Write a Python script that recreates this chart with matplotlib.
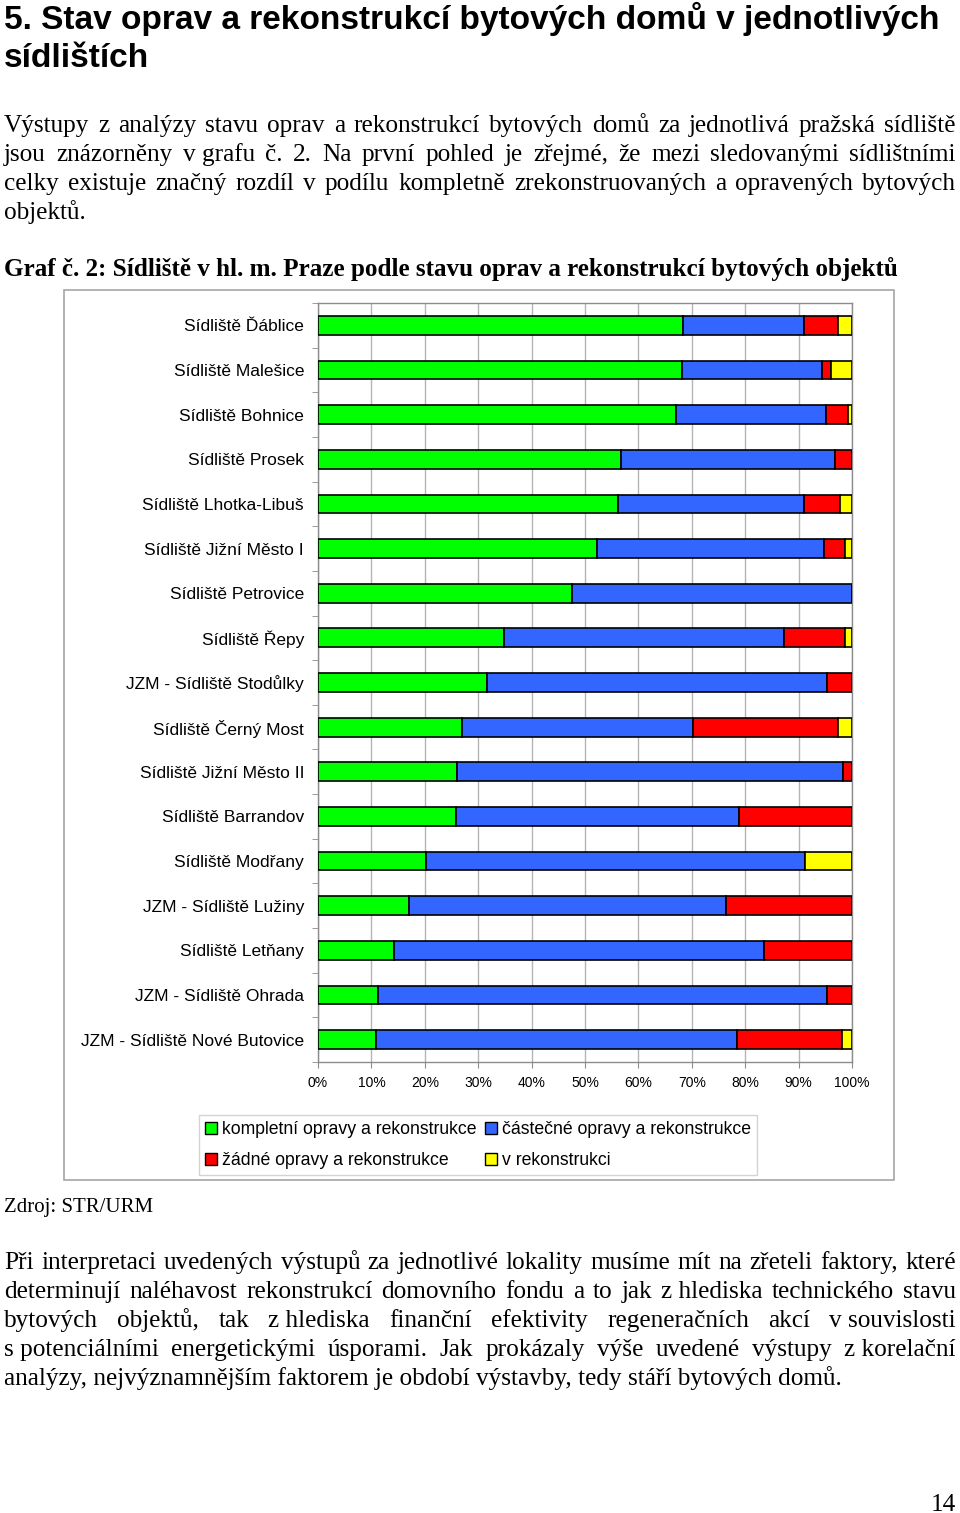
import numpy as np
import matplotlib
matplotlib.use("Agg")
import matplotlib.pyplot as plt
from matplotlib.patches import Rectangle, Patch
from matplotlib import font_manager

plt.rcParams["font.family"] = ["Liberation Sans", "DejaVu Sans"]

W, H = 960, 1513

# data (percent of buildings)
SIDLISTE = [
    "Sídliště Ďáblice", "Sídliště Malešice", "Sídliště Bohnice", "Sídliště Prosek",
    "Sídliště Lhotka-Libuš", "Sídliště Jižní Město I", "Sídliště Petrovice", "Sídliště Řepy",
    "JZM - Sídliště Stodůlky", "Sídliště Černý Most", "Sídliště Jižní Město II",
    "Sídliště Barrandov", "Sídliště Modřany", "JZM - Sídliště Lužiny", "Sídliště Letňany",
    "JZM - Sídliště Ohrada", "JZM - Sídliště Nové Butovice",
]
kompletni = [68.3, 68.1, 67.0, 56.8, 56.2, 52.2, 47.6, 34.8, 31.7, 26.9, 26.0, 25.9, 20.2, 17.1, 14.3, 11.2, 10.8]
castecne = [22.7, 26.2, 28.1, 40.1, 34.8, 42.5, 52.4, 52.4, 63.7, 43.4, 72.4, 52.9, 71.0, 59.3, 69.3, 84.2, 67.7]
zadne = [6.4, 1.8, 4.1, 3.1, 6.7, 4.0, 0.0, 11.5, 4.6, 27.0, 1.6, 21.2, 0.0, 23.6, 16.4, 4.6, 19.7]
v_rekonstrukci = [2.6, 3.9, 0.8, 0.0, 2.3, 1.3, 0.0, 1.3, 0.0, 2.7, 0.0, 0.0, 8.8, 0.0, 0.0, 0.0, 1.8]

SERIES_LABELS = ["kompletní opravy a rekonstrukce", "částečné opravy a rekonstrukce",
                 "žádné opravy a rekonstrukce", "v rekonstrukci"]
COLORS = ["#00ff00", "#3366ff", "#ff0000", "#ffff00"]
XTICKS = list(range(0, 101, 10))

TITLE = ["5. Stav oprav a rekonstrukcí bytových domů v jednotlivých", "sídlištích"]
PARA1 = [
    "Výstupy z analýzy stavu oprav a rekonstrukcí bytových domů za jednotlivá pražská sídliště",
    "jsou znázorněny v\u00a0grafu č. 2. Na první pohled je zřejmé, že mezi sledovanými sídlištními",
    "celky existuje značný rozdíl v podílu kompletně zrekonstruovaných a opravených bytových",
    "objektů.",
]
GRAF = "Graf č. 2: Sídliště v hl. m. Praze podle stavu oprav a rekonstrukcí bytových objektů"
ZDROJ = "Zdroj: STR/URM"
PARA2 = [
    "Při interpretaci uvedených výstupů za jednotlivé lokality musíme mít na zřeteli faktory, které",
    "determinují naléhavost rekonstrukcí domovního fondu a to jak z\u00a0hlediska technického stavu",
    "bytových objektů, tak z\u00a0hlediska finanční efektivity regeneračních akcí v\u00a0souvislosti",
    "s\u00a0potenciálními energetickými úsporami. Jak prokázaly výše uvedené výstupy z\u00a0korelační",
    "analýzy, nejvýznamnějším faktorem je období výstavby, tedy stáří bytových domů.",
]


def fx(x):
    return x / W


def fy(y):
    return 1 - y / H


fig = plt.figure(figsize=(W / 100, H / 100), dpi=100)
renderer = fig.canvas.get_renderer()


def fit_text(x, y, s, width, fs0=16, **kw):
    # scale font so the line spans the same width as in the page
    t = fig.text(fx(x), fy(y), s, fontsize=fs0, va="baseline", **kw)
    w = t.get_window_extent(renderer).width
    t.set_fontsize(fs0 * width / w)
    return t


def justify(line, y, x0, x1, fs, **kw):
    words = line.split(" ")
    texts = [fig.text(0, fy(y), w, fontsize=fs, va="baseline", **kw) for w in words]
    widths = [t.get_window_extent(renderer).width for t in texts]
    gap = (x1 - x0 - sum(widths)) / (len(texts) - 1)
    x = x0
    for t, w in zip(texts, widths):
        t.set_x(fx(x))
        x += w + gap


serif = dict(family=["Liberation Serif", "DejaVu Serif"])

# heading: narrow sans if available
names = {f.name for f in font_manager.fontManager.ttflist}
head_family = ["Liberation Sans Narrow"] if "Liberation Sans Narrow" in names else ["Liberation Sans"]
t1 = fit_text(4, 29, TITLE[0], 936, weight="bold", family=head_family)
fig.text(fx(4), fy(67), TITLE[1], fontsize=t1.get_fontsize(), weight="bold", va="baseline",
         family=head_family)

# body text size taken from the last line of the second paragraph
body = fit_text(4, 1385, PARA2[-1], 839, **serif)
fs_body = body.get_fontsize()

for i, line in enumerate(PARA1[:-1]):
    justify(line, 132 + 29 * i, 4, 956, fs_body, **serif)
fig.text(fx(4), fy(132 + 29 * 3), PARA1[-1], fontsize=fs_body, va="baseline", **serif)

fit_text(4, 276, GRAF, 896, weight="bold", **serif)
fit_text(4, 1212, ZDROJ, 149, **serif)

for i, line in enumerate(PARA2[:-1]):
    justify(line, 1269 + 29 * i, 4, 956, fs_body, **serif)

fig.text(fx(956), fy(1511), "14", fontsize=fs_body, ha="right", va="baseline", **serif)

# chart frame
fig.add_artist(Rectangle((fx(64), fy(1180)), (894 - 64) / W, (1180 - 290) / H,
                         transform=fig.transFigure, fill=False, edgecolor="#a6a6a6", lw=1.2))

ax = fig.add_axes([fx(318), fy(1062), 534 / W, 759 / H])
n = len(SIDLISTE)
ypos = np.arange(n)
left = np.zeros(n)
for vals, col in zip([kompletni, castecne, zadne, v_rekonstrukci], COLORS):
    vals = np.array(vals)
    ax.barh(ypos, vals, left=left, height=0.42, color=col, edgecolor="black", linewidth=1.2, zorder=3)
    left += vals

ax.set_xlim(0, 100)
ax.set_ylim(n - 0.5, -0.5)
ax.set_xticks(XTICKS)
ax.set_xticklabels([f"{v}%" for v in XTICKS])
ax.set_yticks(ypos)
ax.set_yticklabels(SIDLISTE)
ax.set_yticks(np.arange(-0.5, n, 1), minor=True)
ax.tick_params(axis="y", which="major", length=0, pad=10, labelsize=12.5)
ax.tick_params(axis="y", which="minor", length=4, color="#8c8c8c")
ax.tick_params(axis="x", length=4, color="#8c8c8c", pad=6, labelsize=10)
ax.grid(axis="x", color="#b4b4b4", lw=1, zorder=0)
ax.set_axisbelow(True)
for s in ax.spines.values():
    s.set_color("#8c8c8c")
    s.set_linewidth(1)

handles = [Patch(facecolor=c, edgecolor="black", lw=1, label=l) for c, l in zip(COLORS, SERIES_LABELS)]
order = [0, 2, 1, 3]
leg = fig.legend([handles[i] for i in order], [SERIES_LABELS[i] for i in order], ncol=2,
                 loc="upper left", bbox_to_anchor=(fx(199), fy(1115)), borderaxespad=0,
                 fancybox=False, edgecolor="#c8c8c8", fontsize=12.7, handlelength=0.65,
                 handleheight=0.65, handletextpad=0.3, columnspacing=0.5, labelspacing=0.8,
                 borderpad=0.35)
leg.get_frame().set_linewidth(1)

fig.savefig("out.png", dpi=100)
